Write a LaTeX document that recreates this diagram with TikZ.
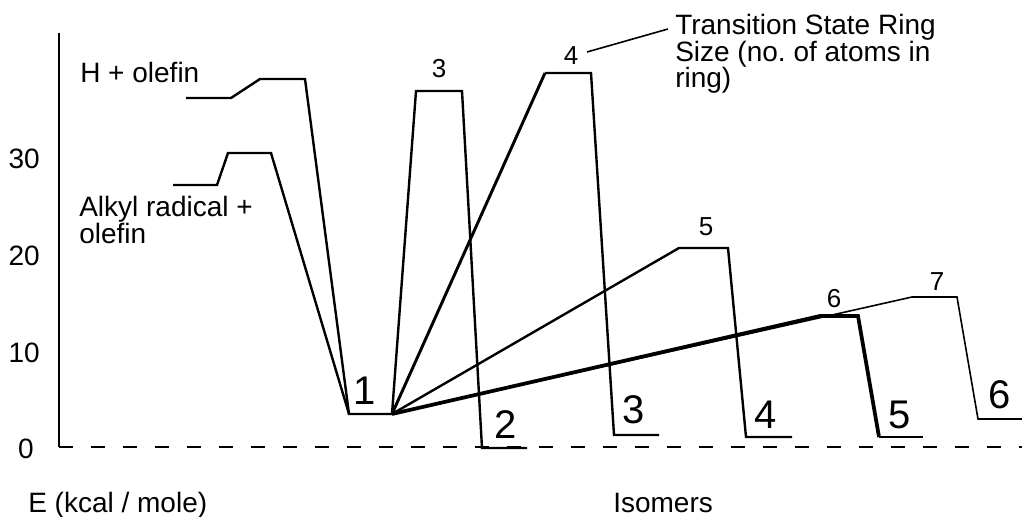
\documentclass[tikz,border=0pt]{standalone}
\usepackage{fontspec}
\setmainfont{Liberation Sans}
\frenchspacing
\begin{document}
\begin{tikzpicture}[x=0.75pt,y=-0.75pt,
  level/.style={line width=1.8pt,line join=miter},
  thickpath/.style={line width=2.8pt,line join=miter},
  thinpath/.style={line width=1.2pt,line join=miter},
  axis/.style={line width=1.1pt},
  zeroline/.style={line width=1.1pt,dash pattern=on 10.5pt off 13.5pt},
  lbl/.style={inner sep=0pt,font=\fontsize{21}{19.5}\selectfont},
  tick/.style={inner sep=0pt,anchor=base east,font=\fontsize{21}{22}\selectfont},
  tsnum/.style={inner sep=0pt,anchor=base,font=\fontsize{19.5}{20}\selectfont},
  isonum/.style={inner sep=0pt,anchor=base,font=\fontsize{30}{31}\selectfont},
  axtitle/.style={inner sep=0pt,anchor=base west,font=\fontsize{21}{22}\selectfont}]
\useasboundingbox (0,0) rectangle (1022,517);

% energy axis and zero line
\coordinate (ytop) at (59,33);
\coordinate (orig) at (59,447);
\coordinate (xend) at (1022,447);
\draw[axis] (ytop) -- (orig);
\draw[zeroline] (orig) -- (xend);

\node[tick] (t30) at (40,168) {30};
\node[tick] (t20) at (40,265) {20};
\node[tick] (t10) at (40,362) {10};
\node[tick] (t0) at (34,458) {0};

\node[axtitle] (etitle) at (28,512) {E (kcal / mole)};
\node[axtitle] (isotitle) at (613,512) {Isomers};

% reactant levels and their barriers
\coordinate (HL1) at (186,98);  \coordinate (HL2) at (231,98);
\coordinate (HT1) at (260,79);  \coordinate (HT2) at (305,79);
\coordinate (AL1) at (173,185); \coordinate (AL2) at (217,185);
\coordinate (AT1) at (228,153); \coordinate (AT2) at (271,153);

% isomer levels and ring transition states
\coordinate (I1a) at (349,414); \coordinate (I1b) at (392,414);
\coordinate (T3a) at (416,91);  \coordinate (T3b) at (462,91);
\coordinate (I2a) at (482,448); \coordinate (I2b) at (527,448);
\coordinate (T4a) at (545,73);  \coordinate (T4b) at (591,73);
\coordinate (I3a) at (614,435); \coordinate (I3b) at (659,435);
\coordinate (T5a) at (679,248); \coordinate (T5b) at (728,248);
\coordinate (I4a) at (746,437); \coordinate (I4b) at (792,437);
\coordinate (T6a) at (820,316); \coordinate (T6b) at (858,316);
\coordinate (I5a) at (879,437); \coordinate (I5b) at (923,437);
\coordinate (T7a) at (912,297); \coordinate (T7b) at (957,297);
\coordinate (I6a) at (978,419); \coordinate (I6b) at (1022,419);

\draw[level] (HL1) -- (HL2) -- (HT1) -- (HT2) -- (I1a) -- (I1b);
\draw[level] (AL1) -- (AL2) -- (AT1) -- (AT2) -- (I1a);

\draw[level] (I1b) -- (T3a) -- (T3b) -- (I2a) -- (I2b);
\draw[level] (T4a) -- (T4b) -- (I3a) -- (I3b);
\draw[line width=2.2pt] (I1b) -- (T4a);
\draw[level] (I1b) -- (T5a) -- (T5b) -- (I4a) -- (I4b);
\draw[thinpath] (I1b) -- (T7a) -- (T7b) -- (I6a) -- (I6b);
\draw[thickpath] (I1b) -- (T6a) -- (T6b) -- (I5a);
\draw[level] (I5a) -- (I5b);

% labels
\node[lbl,anchor=base west] (hol) at (80,83) {H + olefin};
\node[lbl,anchor=north west,align=left] (alk) at (79,196) {Alkyl radical +\\olefin};
\node[lbl,anchor=north west,align=left,font=\fontsize{21}{20}\selectfont] (tsr) at (675,14) {Transition State Ring\\Size (no. of atoms in\\ring)};

\node[tsnum] (n3) at (439,78) {3};
\node[tsnum] (n4) at (571,65) {4};
\node[tsnum] (n5) at (706,235) {5};
\node[tsnum] (n6) at (834,307) {6};
\node[tsnum] (n7) at (937,290) {7};

\coordinate (lead) at (668,29);
\draw[thinpath] (587,52) -- (lead);

\node[isonum] (m1) at (365,404) {1};
\node[isonum] (m2) at (506,438) {2};
\node[isonum] (m3) at (634,423) {3};
\node[isonum] (m4) at (766,428) {4};
\node[isonum] (m5) at (900,428) {5};
\node[isonum] (m6) at (1000,408) {6};
\end{tikzpicture}
\end{document}
